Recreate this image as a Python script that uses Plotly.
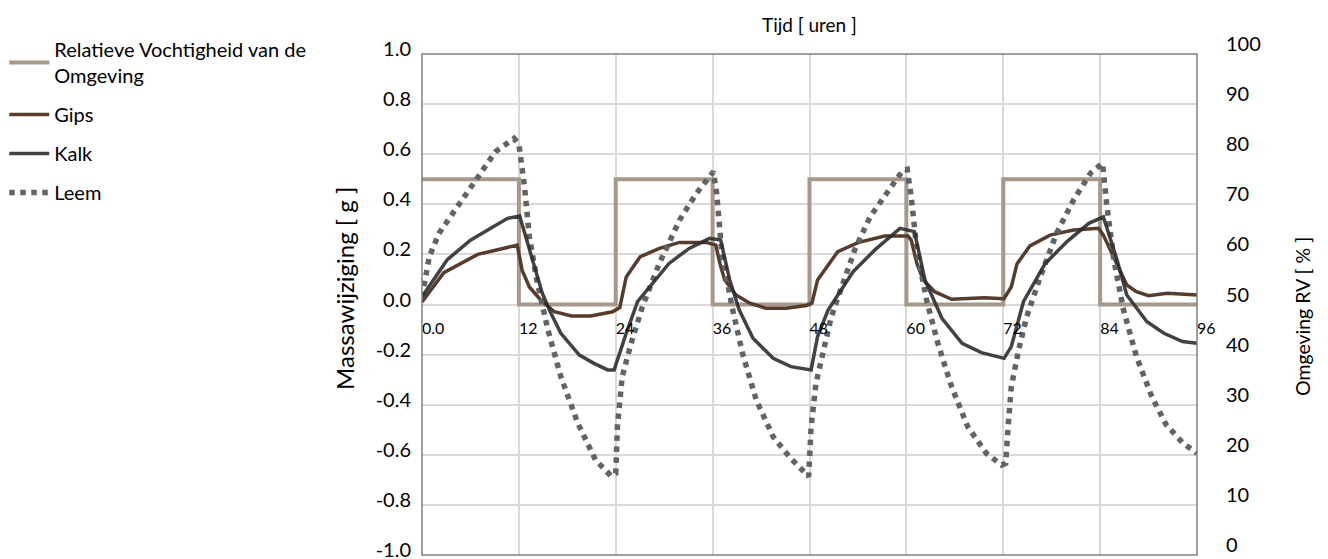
import plotly.graph_objects as go

# ---------------- data ----------------
# Relatieve Vochtigheid van de Omgeving (right axis, %)
rv_t = [0, 12, 12, 24, 24, 36, 36, 48, 48, 60, 60, 72, 72, 84, 84, 96]
rv_v = [75, 75, 50, 50, 75, 75, 50, 50, 75, 75, 50, 50, 75, 75, 50, 50]

# Gips (left axis, g)
gips_t = [0, 2.7, 6.9, 11.8, 12.4, 13.3, 14.7, 16.4, 18.5, 20.9, 23.6, 24.5, 25.3, 27.0,
          29.4, 31.9, 35.2, 36.4, 36.9, 37.5, 38.9, 40.6, 42.6, 45.1, 47.6, 48.3, 49.0,
          51.5, 54.0, 57.3, 60.2, 60.6, 61.3, 62.1, 63.5, 65.6, 69.7, 72.1, 73.0, 73.7,
          75.3, 77.8, 80.7, 83.8, 84.4, 85.7, 87.3, 88.5, 90.0, 92.3, 96.0]
gips_v = [0.01, 0.127, 0.20, 0.237, 0.137, 0.07, 0.018, -0.029, -0.046, -0.046, -0.029,
          -0.012, 0.11, 0.19, 0.224, 0.248, 0.248, 0.237, 0.164, 0.098, 0.038, 0.005,
          -0.015, -0.015, -0.004, 0.005, 0.098, 0.211, 0.247, 0.273, 0.273, 0.257, 0.164,
          0.098, 0.051, 0.021, 0.027, 0.023, 0.071, 0.162, 0.234, 0.277, 0.297, 0.304,
          0.277, 0.19, 0.078, 0.051, 0.035, 0.045, 0.038]

# Kalk (left axis, g)
kalk_t = [0, 3.1, 6.0, 10.6, 12.1, 13.5, 14.9, 15.9, 17.2, 19.5, 21.3, 23.0, 23.8, 25.3,
          26.7, 30.6, 33.1, 35.6, 37.0, 38.1, 39.3, 41.0, 43.5, 45.7, 48.2, 49.0, 50.3,
          53.4, 56.1, 59.2, 61.0, 62.3, 64.4, 66.9, 69.3, 72.1, 73.0, 74.5, 77.2, 79.9,
          82.6, 84.4, 86.1, 87.3, 89.8, 91.9, 94.2, 96.0]
kalk_v = [0.03, 0.178, 0.257, 0.344, 0.353, 0.204, 0.045, -0.03, -0.115, -0.202, -0.235,
          -0.261, -0.261, -0.115, 0.011, 0.164, 0.224, 0.264, 0.257, 0.10, -0.022, -0.135,
          -0.215, -0.248, -0.261, -0.128, -0.022, 0.131, 0.218, 0.304, 0.291, 0.098,
          -0.055, -0.155, -0.192, -0.215, -0.168, 0.011, 0.164, 0.251, 0.324, 0.35, 0.178,
          0.038, -0.069, -0.115, -0.148, -0.155]

# Leem (left axis, g)
leem_t = [0, 0.9, 2.1, 4.4, 6.5, 9.1, 11.4, 12.0, 12.7, 13.3, 14.3, 15.6, 17.2, 19.3,
          21.5, 23.4, 24.0, 24.2, 24.8, 25.9, 27.3, 29.4, 31.9, 34.0, 36.1, 36.5, 37.1,
          38.4, 39.7, 41.4, 43.5, 45.5, 47.9, 48.2, 48.8, 49.7, 50.7, 52.0, 53.6, 55.5,
          57.5, 59.6, 60.1, 60.6, 61.3, 62.5, 63.9, 65.6, 67.6, 69.9, 71.8, 72.3, 72.6,
          73.0, 73.9, 74.9, 76.6, 78.6, 80.7, 82.8, 84.3, 84.8, 85.7, 86.9, 88.5, 90.4,
          92.2, 94.3, 96.0]
leem_v = [0.03, 0.19, 0.284, 0.39, 0.49, 0.61, 0.663, 0.64, 0.47, 0.27, 0.085, -0.102,
          -0.288, -0.474, -0.621, -0.684, -0.674, -0.488, -0.288, -0.155, -0.009, 0.164,
          0.337, 0.444, 0.53, 0.444, 0.218, -0.009, -0.195, -0.381, -0.528, -0.608, -0.687,
          -0.488, -0.315, -0.182, -0.049, 0.071, 0.218, 0.35, 0.444, 0.537, 0.54, 0.43,
          0.218, 0.018, -0.155, -0.328, -0.488, -0.594, -0.641, -0.634, -0.488, -0.328,
          -0.182, -0.049, 0.111, 0.284, 0.417, 0.524, 0.564, 0.404, 0.178, -0.022, -0.208,
          -0.368, -0.481, -0.554, -0.594]

# ticks
time_ticks = [0, 12, 24, 36, 48, 60, 72, 84, 96]
time_tick_labels = ["0.0", "12", "24", "36", "48", "60", "72", "84", "96"]
mass_ticks = [-1.0, -0.8, -0.6, -0.4, -0.2, 0.0, 0.2, 0.4, 0.6, 0.8, 1.0]
mass_tick_labels = ["-1.0", "-0.8", "-0.6", "-0.4", "-0.2", "0.0", "0.2", "0.4", "0.6", "0.8", "1.0"]
rv_ticks = [0, 10, 20, 30, 40, 50, 60, 70, 80, 90, 100]

# ---------------- figure ----------------
FONT = "Lato"
fig = go.Figure()

fig.add_trace(go.Scatter(
    x=rv_t, y=rv_v, mode="lines", yaxis="y", legendrank=1, legendgroup="rv",
    name="Relatieve Vochtigheid van de<br>Omgeving",
    line=dict(color="#a6988a", width=4)))
fig.add_trace(go.Scatter(
    x=gips_t, y=gips_v, mode="lines", yaxis="y2", legendrank=2, legendgroup="gips",
    name="Gips", line=dict(color="#553c2c", width=3.5)))
fig.add_trace(go.Scatter(
    x=leem_t, y=leem_v, mode="lines", yaxis="y2", legendrank=4, legendgroup="leem",
    name="Leem", line=dict(color="#5f6466", width=5.5, dash="dot")))
fig.add_trace(go.Scatter(
    x=kalk_t, y=kalk_v, mode="lines", yaxis="y2", legendrank=3, legendgroup="kalk",
    name="Kalk", line=dict(color="rgba(45,45,45,0.9)", width=3.5)))

grid = "#d9d9d9"
fig.update_layout(
    template="none",
    width=1328, height=559,
    margin=dict(l=422, r=131, t=54, b=4, autoexpand=False),
    paper_bgcolor="white", plot_bgcolor="white",
    font=dict(family=FONT, size=20, color="black"),
    showlegend=True,
    legend=dict(x=-0.539, xanchor="left", y=1.048, yanchor="top",
                font=dict(family=FONT, size=20, color="black"),
                tracegroupgap=10, itemwidth=40, bgcolor="rgba(0,0,0,0)"),
    xaxis=dict(range=[0, 96], anchor="free", position=0.5, automargin=False,
               tickvals=time_ticks, ticktext=time_tick_labels,
               ticklabelposition="outside right", ticks="", ticklabelstandoff=12,
               tickfont=dict(family=FONT, size=16, color="black"),
               showgrid=True, gridcolor=grid, gridwidth=1.5,
               zeroline=False, showline=False),
    yaxis=dict(range=[0, 100], side="right", anchor="x", automargin=False,
               tickvals=rv_ticks, ticks="", ticklabelstandoff=28,
               ticklabeloverflow="allow", ticklabelshift=-10,
               tickfont=dict(family=FONT, size=20, color="black"),
               showgrid=False, zeroline=False, showline=False),
    yaxis2=dict(range=[-1, 1], side="left", overlaying="y", anchor="x", automargin=False,
                tickvals=mass_ticks, ticktext=mass_tick_labels,
                ticks="", ticklabelstandoff=10,
                ticklabeloverflow="allow", ticklabelshift=-5,
                tickfont=dict(family=FONT, size=20, color="black"),
                showgrid=True, gridcolor=grid, gridwidth=1.5,
                zeroline=False, showline=False),
    shapes=[dict(type="rect", xref="paper", yref="paper", x0=0, x1=1, y0=0, y1=1,
                 line=dict(color="#808080", width=1.5), layer="above")],
    annotations=[
        dict(text="Tijd [ uren ]", xref="paper", yref="paper", x=0.5, y=1.058,
             xanchor="center", yanchor="middle", showarrow=False,
             font=dict(family=FONT, size=19, color="black")),
        dict(text="Massawijziging [ g ]", xref="paper", yref="paper", x=-0.0994, y=0.533,
             xanchor="center", yanchor="middle", showarrow=False, textangle=-90,
             font=dict(family=FONT, size=24, color="black")),
        dict(text="Omgeving RV [ % ]", xref="paper", yref="paper", x=1.1355, y=0.475,
             xanchor="center", yanchor="middle", showarrow=False, textangle=-90,
             font=dict(family=FONT, size=19.5, color="black")),
    ],
)

fig.write_html("out.html")
